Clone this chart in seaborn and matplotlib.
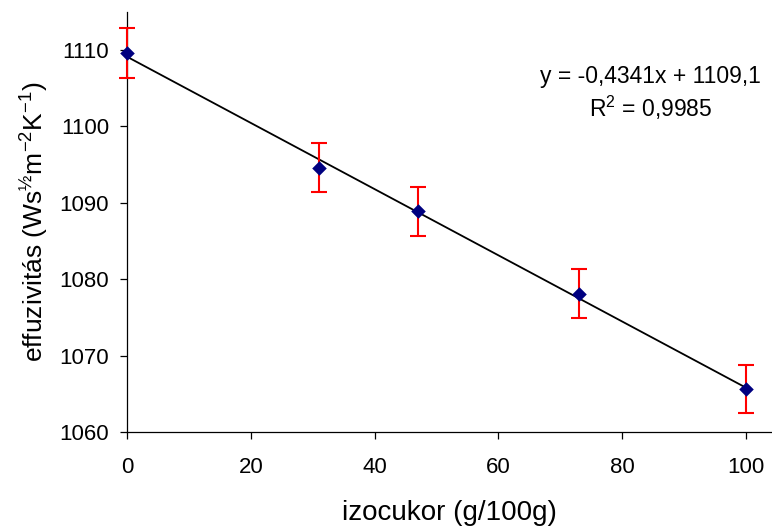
import numpy as np
import pandas as pd
import matplotlib
matplotlib.use("Agg")
import matplotlib.pyplot as plt
import seaborn as sns

# data
izocukor = [0, 31, 47, 73, 100]
effuzivitas = [1109.6, 1094.6, 1088.9, 1078.1, 1065.6]
hiba = [3.3, 3.2, 3.2, 3.2, 3.1]
egyenlet = "y = -0,4341x + 1109,1"
r2_szoveg = "R$^2$ = 0,9985"

df = pd.DataFrame({"x": izocukor, "y": effuzivitas, "err": hiba})

sns.set_style("white")
plt.rcParams.update({
    "font.family": ["Liberation Sans", "DejaVu Sans"],
    "mathtext.fontset": "custom",
    "mathtext.rm": "Liberation Sans",
    "mathtext.it": "Liberation Sans",
    "mathtext.bf": "Liberation Sans",
    "text.color": "black",
    "axes.labelcolor": "black",
    "xtick.color": "black",
    "ytick.color": "black",
})

fig = plt.figure(figsize=(7.72, 5.30), dpi=100)
ax = fig.add_axes([0.1645, 0.185, 0.8355, 0.793])

# trend line (linear fit of the data)
sns.regplot(data=df, x="x", y="y", ci=None, scatter=False, truncate=True,
            line_kws={"color": "black", "lw": 1.3}, ax=ax)

# error bars
eb = ax.errorbar(df["x"], df["y"], yerr=df["err"], fmt="none", ecolor="red",
                 elinewidth=1.5, capsize=5.5, capthick=1.5, zorder=3)
for art in eb.lines[1] + eb.lines[2]:
    art.set_clip_on(False)

# points
sns.scatterplot(data=df, x="x", y="y", marker="D", color="#000080",
                s=55, edgecolor="#000080", linewidth=0, zorder=4,
                clip_on=False, ax=ax)

ax.set_xlim(0, 104.2)
ax.set_ylim(1060, 1115)
ax.set_xticks([0, 20, 40, 60, 80, 100])
ax.set_yticks([1060, 1070, 1080, 1090, 1100, 1110])

sns.despine(ax=ax)
for s in ["left", "bottom"]:
    ax.spines[s].set_color("black")
    ax.spines[s].set_linewidth(0.9)
ax.tick_params(axis="both", direction="out", length=5, width=0.9,
               labelsize=16, left=True, bottom=True)
ax.tick_params(axis="y", pad=8)
ax.tick_params(axis="x", pad=13)

ax.set_xlabel("izocukor (g/100g)", fontsize=20, labelpad=16)
ax.set_ylabel("effuzivitás (Ws$^{½}$m$^{-2}$K$^{-1}$)", fontsize=19, labelpad=6)

ax.text(0.812, 0.845, egyenlet, transform=ax.transAxes, ha="center",
        va="center", fontsize=16.5)
ax.text(0.812, 0.772, r2_szoveg, transform=ax.transAxes, ha="center",
        va="center", fontsize=16.5)

fig.savefig("out.png", dpi=100)
